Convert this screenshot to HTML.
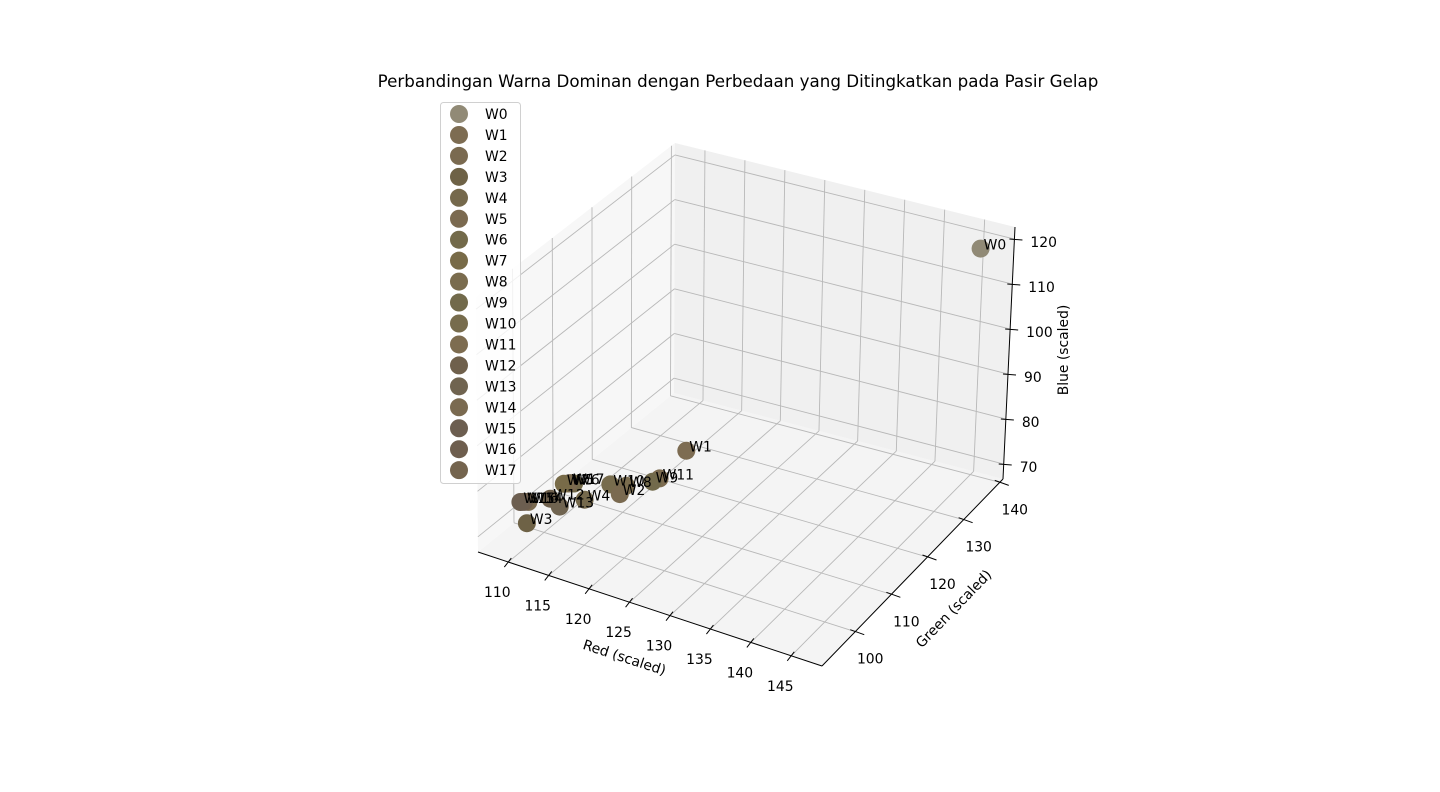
<!DOCTYPE html>
<html><head><meta charset="utf-8"><style>
html,body{margin:0;padding:0;background:#fff}
svg{display:block;font-family:"DejaVu Sans","Liberation Sans",sans-serif}
</style></head><body>
<svg id="chart" width="1440" height="792" viewBox="0 0 1440 792">
<text x="738" y="87" text-anchor="middle" font-size="16.7">Perbandingan Warna Dominan dengan Perbedaan yang Ditingkatkan pada Pasir Gelap</text>
<g id="panes"></g>
<g id="grid"></g>
<g id="axes"></g>
<g id="points"></g>
<g id="labels"></g>
<g id="legend"></g>
</svg>
<script>
const names = ["W0","W1","W2","W3","W4","W5","W6","W7","W8","W9","W10","W11","W12","W13","W14","W15","W16","W17"];
const redVals = [146.4,118.8,117.3,110.1,114.7,111.5,112.0,111.1,117.0,119.0,115.4,119.3,111.5,113.2,109.9,109.2,109.5,111.6];
const greenVals = [136.9,118.6,104.4,95.4,100.7,103.2,103.6,102.8,106.7,109.4,105.9,110.6,98.5,97.4,96.2,95.6,95.9,103.4];
const blueVals = [120,76,76,72,76,76,76,76,76,76,76,76,76,76,76,76,76,76];
const colors = ["#918a76","#7d6c52","#7a6a50","#6e6246","#75694c","#7b6a50","#736a4a","#786b48","#7a6c4e","#726a4b","#776c4d","#7d6c50","#6f604c","#706450","#7a6a50","#6c5e50","#6e5e4e","#74644e"];
const redTicks = [110,115,120,125,130,135,140,145];
const greenTicks = [100,110,120,130,140];
const blueTicks = [70,80,90,100,110,120];

const R0=106.25,R1=148.8,G0=90.8,G1=140.9,B0=66.67,B1=122.67;
// corners [r][g][b]
const C={"000":[478,552],"100":[822,666],"110":[1003,479],"010":[674,393],
"001":[476,297],"101":[832,408],"111":[1015,227],"011":[675,143]};
function lerp(a,b,t){return [a[0]+(b[0]-a[0])*t,a[1]+(b[1]-a[1])*t];}
function P(r,g,b){
  const u=(r-R0)/(R1-R0),v=(g-G0)/(G1-G0),w=(b-B0)/(B1-B0);
  const b0=lerp(lerp(C["000"],C["100"],u),lerp(C["010"],C["110"],u),v);
  const b1=lerp(lerp(C["001"],C["101"],u),lerp(C["011"],C["111"],u),v);
  return lerp(b0,b1,w);
}
const NS="http://www.w3.org/2000/svg";
function mk(tag,attrs,parent){const e=document.createElementNS(NS,tag);for(const k in attrs)e.setAttribute(k,attrs[k]);parent.appendChild(e);return e;}
function poly(pts){return pts.map(p=>p[0].toFixed(1)+","+p[1].toFixed(1)).join(" ");}

const panes=document.getElementById("panes");
let e;
e=mk("polygon",{points:poly([P(R0,G0,B0),P(R1,G0,B0),P(R1,G1,B0),P(R0,G1,B0)]),fill:"#f4f4f4"},panes);


e=mk("polygon",{points:poly([P(R0,G0,B0),P(R0,G1,B0),P(R0,G1,B1),P(R0,G0,B1)]),fill:"#f7f7f7"},panes);


e=mk("polygon",{points:poly([P(R0,G1,B0),P(R1,G1,B0),P(R1,G1,B1),P(R0,G1,B1)]),fill:"#f0f0f0"},panes);



const grid=document.getElementById("grid");
function gl(a,b,name){const l=mk("line",{x1:a[0],y1:a[1],x2:b[0],y2:b[1],stroke:"#b8b8b8","stroke-width":0.9},grid);

}
redTicks.forEach(t=>{gl(P(t,G0,B0),P(t,G1,B0),'grid-red-bottom');gl(P(t,G1,B0),P(t,G1,B1),'grid-red-back');});
greenTicks.forEach(t=>{gl(P(R0,t,B0),P(R1,t,B0),'grid-green-bottom');gl(P(R0,t,B0),P(R0,t,B1),'grid-green-left');});
blueTicks.forEach(t=>{gl(P(R0,G1,t),P(R1,G1,t),'grid-blue-back');gl(P(R0,G0,t),P(R0,G1,t),'grid-blue-left');});

const axes=document.getElementById("axes");
function al(a,b,name){const l=mk("line",{x1:a[0],y1:a[1],x2:b[0],y2:b[1],stroke:"#000","stroke-width":1},axes);

}
function tx(x,y,s,name,anchor){const t=mk("text",{x:x,y:y,"font-size":13.9,"text-anchor":anchor||"middle"},axes);t.textContent=s;

return t;}
al(P(R0,G0,B0),P(R1,G0,B0),'red-axis-line');
al(P(R1,G0,B0),P(R1,G1,B0),'green-axis-line');
al(P(R1,G1,B0),P(R1,G1,B1),'blue-axis-line');
redTicks.forEach(t=>{const p=P(t,G0,B0);al([p[0]+3,p[1]-4],[p[0]-4,p[1]+5],'red-tick');tx(p[0]-11,p[1]+35,String(t),'red-tick-label');});
greenTicks.forEach(t=>{const p=P(R1,t,B0);al([p[0]-5,p[1]-2],[p[0]+9,p[1]+3],'green-tick');tx(p[0]+15,p[1]+32,String(t),'green-tick-label');});
blueTicks.forEach(t=>{const p=P(R1,G1,t);al([p[0]-5,p[1]],[p[0]+8,p[1]+1],'blue-tick');tx(p[0]+16,p[1]+8,String(t),'blue-tick-label','start');});
let lab;
lab=tx(0,0,"Red (scaled)",'red-axis-title');lab.setAttribute("transform","translate(623,662) rotate(18)");
lab=tx(0,0,"Green (scaled)",'green-axis-title');lab.setAttribute("transform","translate(957,612) rotate(-46)");
lab=tx(0,0,"Blue (scaled)",'blue-axis-title');lab.setAttribute("transform","translate(1068,350) rotate(-90)");

const pts=document.getElementById("points"),labs=document.getElementById("labels");
const order=names.map((n,i)=>i).sort((a,b)=>(greenVals[b]-redVals[b]*0.5)-(greenVals[a]-redVals[a]*0.5));
order.forEach(i=>{
  const p=P(redVals[i],greenVals[i],blueVals[i]);
  const c=mk("circle",{cx:p[0].toFixed(1),cy:p[1].toFixed(1),r:9,fill:colors[i]},pts);
  
  
});
names.forEach((n,i)=>{
  const p=P(redVals[i],greenVals[i],blueVals[i]);
  const t=mk("text",{x:(p[0]+3).toFixed(1),y:(p[1]+1).toFixed(1),"font-size":13.9},labs);t.textContent=n;
  
  
});

const lg=document.getElementById("legend");
e=mk("rect",{x:440.5,y:102.5,width:80,height:381,rx:3,fill:"#fff","fill-opacity":0.8,stroke:"#d0d0d0"},lg);


names.forEach((n,i)=>{
  const y=114+i*20.95;
  const g=mk("g",{},lg);
  
  
  mk("circle",{cx:459,cy:y,r:9,fill:colors[i]},g);
  const t=mk("text",{x:485,y:y+5,"font-size":13.9},g);t.textContent=n;
});
</script>
</body></html>
